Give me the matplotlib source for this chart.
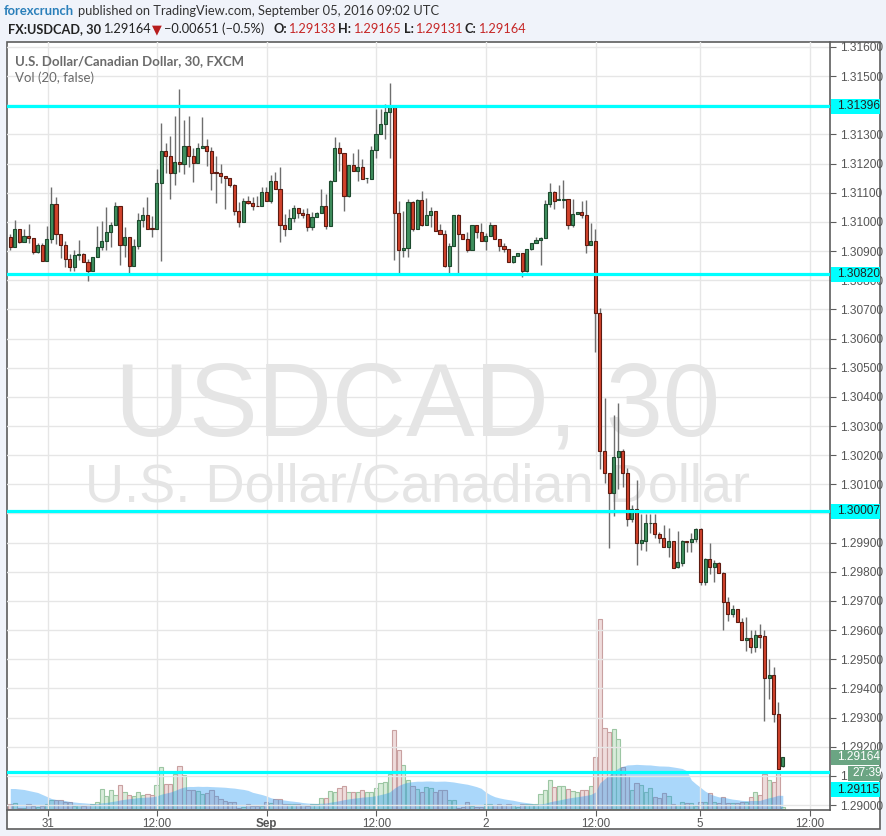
import numpy as np
import pandas as pd
import matplotlib
matplotlib.use('Agg')
import matplotlib.pyplot as plt
from matplotlib.patches import Rectangle
from matplotlib.ticker import FuncFormatter
from matplotlib.transforms import blended_transform_factory, offset_copy

plt.rcParams['font.family'] = ['Liberation Sans', 'DejaVu Sans']

# USDCAD 30 min candles, Aug 31 - Sep 5 2016
opens = [
    1.30948, 1.30914, 1.30974, 1.30932, 1.30953, 1.30946, 1.30897, 1.30920, 1.30866, 1.30940,
    1.31063, 1.30959, 1.30922, 1.30873, 1.30846, 1.30885, 1.30889, 1.30863, 1.30832, 1.30878,
    1.30913, 1.30936, 1.30967, 1.30988, 1.31054, 1.30921, 1.30948, 1.30849, 1.30917, 1.31006,
    1.31022, 1.30980, 1.30974, 1.31132, 1.31242, 1.31225, 1.31166, 1.31204, 1.31197, 1.31262,
    1.31225, 1.31203, 1.31252, 1.31262, 1.31242, 1.31171, 1.31166, 1.31159, 1.31149, 1.31125,
    1.31036, 1.30998, 1.31073, 1.31065, 1.31056, 1.31053, 1.31104, 1.31073, 1.31140, 1.31113,
    1.30991, 1.30976, 1.31013, 1.31047, 1.31029, 1.31027, 1.30983, 1.31016, 1.31029, 1.31054,
    1.30987, 1.31140, 1.31255, 1.31235, 1.31089, 1.31195, 1.31175, 1.31187, 1.31149, 1.31148,
    1.31245, 1.31300, 1.31335, 1.31376, 1.31395, 1.31032, 1.30905, 1.30912, 1.31067, 1.30976,
    1.31075, 1.30989, 1.31022, 1.31037, 1.30972, 1.30958, 1.30849, 1.30917, 1.31023, 1.30957,
    1.30940, 1.30902, 1.30989, 1.30964, 1.30935, 1.30951, 1.30989, 1.30943, 1.30918, 1.30908,
    1.30861, 1.30882, 1.30893, 1.30832, 1.30906, 1.30927, 1.30937, 1.30946, 1.31061, 1.31101,
    1.31075, 1.31075, 1.31078, 1.30991, 1.31027, 1.31033, 1.31025, 1.30922, 1.30934, 1.30689,
    1.30215, 1.30139, 1.30071, 1.30194, 1.30214, 1.30139, 1.29982, 1.30017, 1.29900, 1.29907,
    1.29966, 1.29966, 1.29929, 1.29915, 1.29886, 1.29906, 1.29818, 1.29831, 1.29906, 1.29903,
    1.29911, 1.29946, 1.29766, 1.29843, 1.29818, 1.29829, 1.29797, 1.29698, 1.29654, 1.29671,
    1.29629, 1.29566, 1.29572, 1.29543, 1.29583, 1.29580, 1.29437, 1.29446, 1.29311, 1.29133,
]
highs = [
    1.30958, 1.31006, 1.30974, 1.30974, 1.30994, 1.30946, 1.30929, 1.30928, 1.30985, 1.31119,
    1.31085, 1.30959, 1.30934, 1.30890, 1.30903, 1.30937, 1.30893, 1.30872, 1.30878, 1.30985,
    1.31002, 1.31051, 1.30998, 1.31068, 1.31054, 1.30982, 1.30948, 1.30942, 1.31030, 1.31051,
    1.31086, 1.31020, 1.31183, 1.31339, 1.31269, 1.31295, 1.31363, 1.31456, 1.31351, 1.31363,
    1.31253, 1.31269, 1.31360, 1.31283, 1.31258, 1.31226, 1.31198, 1.31159, 1.31151, 1.31130,
    1.31067, 1.31083, 1.31088, 1.31086, 1.31088, 1.31120, 1.31120, 1.31160, 1.31172, 1.31188,
    1.31026, 1.31044, 1.31057, 1.31047, 1.31043, 1.31046, 1.31035, 1.31035, 1.31112, 1.31095,
    1.31143, 1.31292, 1.31275, 1.31235, 1.31195, 1.31235, 1.31250, 1.31215, 1.31152, 1.31259,
    1.31387, 1.31387, 1.31405, 1.31475, 1.31396, 1.31071, 1.31037, 1.31080, 1.31072, 1.31077,
    1.31106, 1.31083, 1.31052, 1.31037, 1.30992, 1.30972, 1.30926, 1.31025, 1.31026, 1.30960,
    1.30964, 1.30989, 1.30989, 1.30997, 1.30961, 1.31000, 1.30989, 1.30943, 1.30929, 1.30908,
    1.30882, 1.30893, 1.30893, 1.30906, 1.30928, 1.30949, 1.30949, 1.31075, 1.31132, 1.31106,
    1.31126, 1.31143, 1.31080, 1.31077, 1.31033, 1.31072, 1.31075, 1.30997, 1.30974, 1.30703,
    1.30397, 1.30139, 1.30339, 1.30380, 1.30221, 1.30157, 1.30030, 1.30116, 1.29999, 1.29998,
    1.29998, 1.29999, 1.29937, 1.29961, 1.29949, 1.29906, 1.29940, 1.29909, 1.29906, 1.29934,
    1.29951, 1.29949, 1.29846, 1.29898, 1.29840, 1.29834, 1.29800, 1.29715, 1.29686, 1.29674,
    1.29640, 1.29644, 1.29600, 1.29600, 1.29620, 1.29600, 1.29500, 1.29474, 1.29354, 1.29165,
]
lows = [
    1.30903, 1.30914, 1.30928, 1.30932, 1.30928, 1.30890, 1.30892, 1.30866, 1.30866, 1.30928,
    1.30925, 1.30877, 1.30846, 1.30833, 1.30833, 1.30869, 1.30863, 1.30798, 1.30832, 1.30878,
    1.30905, 1.30905, 1.30914, 1.30988, 1.30853, 1.30880, 1.30825, 1.30849, 1.30908, 1.30983,
    1.30976, 1.30949, 1.30974, 1.30866, 1.31166, 1.31080, 1.31125, 1.31172, 1.31165, 1.31190,
    1.31138, 1.31203, 1.31252, 1.31191, 1.31111, 1.31065, 1.31134, 1.31045, 1.31120, 1.31022,
    1.30983, 1.30998, 1.31063, 1.31040, 1.31053, 1.31053, 1.31073, 1.31065, 1.31113, 1.30932,
    1.30952, 1.30976, 1.31000, 1.31014, 1.31012, 1.30969, 1.30972, 1.31016, 1.31029, 1.30974,
    1.30985, 1.31140, 1.31175, 1.31039, 1.31086, 1.31175, 1.31141, 1.31148, 1.31134, 1.31148,
    1.31218, 1.31300, 1.31285, 1.31220, 1.30869, 1.30825, 1.30880, 1.30878, 1.30969, 1.30974,
    1.30985, 1.30989, 1.30983, 1.30969, 1.30958, 1.30846, 1.30825, 1.30917, 1.30825, 1.30940,
    1.30897, 1.30902, 1.30946, 1.30935, 1.30903, 1.30951, 1.30943, 1.30901, 1.30897, 1.30861,
    1.30860, 1.30882, 1.30811, 1.30829, 1.30903, 1.30926, 1.30851, 1.30946, 1.31052, 1.31043,
    1.31075, 1.31049, 1.30974, 1.30983, 1.31027, 1.31012, 1.30894, 1.30922, 1.30554, 1.30154,
    1.30105, 1.29882, 1.29992, 1.30084, 1.30091, 1.29956, 1.29972, 1.29823, 1.29875, 1.29873,
    1.29934, 1.29915, 1.29898, 1.29886, 1.29852, 1.29812, 1.29812, 1.29820, 1.29869, 1.29869,
    1.29903, 1.29755, 1.29755, 1.29792, 1.29766, 1.29797, 1.29600, 1.29632, 1.29646, 1.29629,
    1.29566, 1.29529, 1.29520, 1.29526, 1.29537, 1.29289, 1.29362, 1.29286, 1.29122, 1.29131,
]
closes = [
    1.30914, 1.30974, 1.30932, 1.30953, 1.30946, 1.30897, 1.30920, 1.30866, 1.30940, 1.31063,
    1.30959, 1.30922, 1.30873, 1.30846, 1.30885, 1.30889, 1.30863, 1.30832, 1.30878, 1.30913,
    1.30936, 1.30967, 1.30988, 1.31054, 1.30921, 1.30948, 1.30849, 1.30917, 1.31006, 1.31022,
    1.30976, 1.30974, 1.31132, 1.31242, 1.31225, 1.31166, 1.31204, 1.31197, 1.31262, 1.31225,
    1.31203, 1.31252, 1.31262, 1.31242, 1.31168, 1.31166, 1.31159, 1.31149, 1.31125, 1.31036,
    1.30998, 1.31073, 1.31065, 1.31056, 1.31053, 1.31104, 1.31073, 1.31140, 1.31113, 1.30991,
    1.30976, 1.31013, 1.31047, 1.31029, 1.31024, 1.30983, 1.31016, 1.31029, 1.31054, 1.30987,
    1.31140, 1.31255, 1.31235, 1.31089, 1.31195, 1.31175, 1.31187, 1.31148, 1.31150, 1.31246,
    1.31300, 1.31335, 1.31376, 1.31395, 1.31031, 1.30905, 1.30912, 1.31067, 1.30976, 1.31075,
    1.30989, 1.31022, 1.31037, 1.30969, 1.30958, 1.30849, 1.30917, 1.31023, 1.30957, 1.30940,
    1.30902, 1.30989, 1.30964, 1.30935, 1.30951, 1.30989, 1.30943, 1.30918, 1.30908, 1.30861,
    1.30882, 1.30893, 1.30832, 1.30906, 1.30927, 1.30937, 1.30946, 1.31061, 1.31101, 1.31073,
    1.31075, 1.31078, 1.30991, 1.31027, 1.31033, 1.31025, 1.30922, 1.30934, 1.30689, 1.30215,
    1.30139, 1.30071, 1.30194, 1.30214, 1.30139, 1.29982, 1.30017, 1.29900, 1.29909, 1.29969,
    1.29966, 1.29929, 1.29917, 1.29886, 1.29906, 1.29812, 1.29834, 1.29906, 1.29903, 1.29911,
    1.29946, 1.29766, 1.29843, 1.29818, 1.29829, 1.29797, 1.29698, 1.29654, 1.29671, 1.29629,
    1.29566, 1.29572, 1.29543, 1.29583, 1.29577, 1.29437, 1.29446, 1.29311, 1.29125, 1.29164,
]
volumes = [
    5, 6, 1, 1, 5, 3, 2, 3, 5, 9, 9, 9, 7, 7, 3, 4, 3, 4, 5, 7,
    20, 13, 19, 14, 24, 17, 14, 13, 17, 14, 15, 14, 24, 42, 25, 25, 35, 43, 34, 19,
    19, 18, 15, 16, 19, 13, 10, 8, 7, 7, 1, 2, 5, 3, 3, 3, 7, 6, 10, 10,
    5, 5, 5, 5, 4, 3, 5, 5, 11, 11, 18, 17, 21, 23, 17, 17, 17, 19, 17, 17,
    21, 26, 27, 35, 79, 59, 44, 29, 23, 20, 17, 22, 21, 17, 19, 19, 9, 9, 1, 2,
    7, 3, 2, 2, 5, 5, 4, 5, 4, 5, 4, 2, 5, 5, 5, 5, 15, 19, 29, 22,
    23, 23, 20, 18, 17, 19, 19, 23, 52, 190, 81, 77, 80, 70, 42, 33, 19, 26, 24, 17,
    21, 12, 11, 16, 13, 5, 4, 7, 6, 6, 3, 7, 7, 16, 7, 6, 12, 6, 6, 6,
    7, 7, 12, 17, 14, 35, 29, 27, 36, 2,
]
# volume MA for the first bars (earlier history is off-screen)
vol_ma_head = [20, 20, 19.5, 19, 18, 17, 16, 14, 12, 10, 9, 8.5, 8, 7, 6.5, 6, 5.7, 5.3, 5]

time_tick_pos = [8.2, 32.1, 56.1, 80.1, 104.0, 128.1, 150.9, 175.0]
time_tick_labels = ['31', '12:00', 'Sep', '12:00', '2', '12:00', '5', '12:00']

levels = [1.31396, 1.30820, 1.30007, 1.29115]
hidden_ticks = [1.314, 1.300]  # fully covered by the level boxes
last_price = 1.29164
countdown = '27:39'

W, H = 887, 836


def fx(px):
    return px / W


def fy(py):
    return 1 - py / H


fig = plt.figure(figsize=(W / 100, H / 100), dpi=100, facecolor='#f0f3fa')
frame = Rectangle((fx(7), fy(829)), fx(880) - fx(7), fy(42) - fy(829),
                  transform=fig.transFigure, facecolor='white',
                  edgecolor='#5d5d5d', lw=1.2, zorder=-1)
fig.patches.append(frame)

rect = [fx(7), fy(810), fx(830) - fx(7), fy(42) - fy(810)]
ax_vol = fig.add_axes(rect)
ax = fig.add_axes(rect, sharex=ax_vol)

o, h, l, c = (np.array(a) for a in (opens, highs, lows, closes))
x = np.arange(len(o))
up = c >= o

# volume + moving average
vol = np.array(volumes, dtype=float)
vol_ma = pd.Series(vol).rolling(20).mean().to_numpy()
vol_ma[:len(vol_ma_head)] = vol_ma_head
ax_vol.bar(x[up], vol[up], width=0.92, color='#d8ecda', edgecolor='#9cc6a3', lw=0.8)
ax_vol.bar(x[~up], vol[~up], width=0.92, color='#efdcdc', edgecolor='#c9a1a1', lw=0.8)
ax_vol.fill_between(x, 0, vol_ma, color='#2196f3', alpha=0.38, lw=0, zorder=3)
ax_vol.set_ylim(-1.5, 766.5)
ax_vol.set_axis_off()

# watermark
ax.text(fx(418), fy(436), 'USDCAD, 30', transform=fig.transFigure, ha='center',
        va='baseline', fontsize=74, color='#e5e5e5', zorder=1)
ax.text(fx(418), fy(502), 'U.S. Dollar/Canadian Dollar', transform=fig.transFigure,
        ha='center', va='baseline', fontsize=39, color='#e5e5e5', zorder=1)

# candles
ax.vlines(x, l, h, color='#6e6e6e', lw=1.0, zorder=3)
body_bottom = np.minimum(o, c)
body_height = np.maximum(np.abs(c - o), 0.00002)
ax.bar(x[up], body_height[up], bottom=body_bottom[up], width=0.68,
       color='#3f8f5e', edgecolor='#1d4a2e', lw=0.8, zorder=4)
ax.bar(x[~up], body_height[~up], bottom=body_bottom[~up], width=0.68,
       color='#d2432c', edgecolor='#5c1b11', lw=0.8, zorder=4)

for lev in levels:
    ax.axhline(lev, color='#00ffff', lw=2.3, zorder=6)


def price_fmt(v, pos):
    if any(abs(v - t) < 1e-7 for t in hidden_ticks):
        return ''
    return f'{v:.5f}'


ax.set_xlim(-0.72, 179.33)
ax.set_ylim(1.28983, 1.31617)
ax.patch.set_visible(False)
ax.yaxis.tick_right()
ax.set_yticks(np.arange(1.290, 1.31601, 0.001))
ax.yaxis.set_major_formatter(FuncFormatter(price_fmt))
ax.tick_params(axis='y', colors='#5d5d5d', labelcolor='#555555', labelsize=8.6,
               length=4, width=0.8, pad=3)
ax.set_xticks(time_tick_pos, time_tick_labels)
ax.tick_params(axis='x', colors='#5d5d5d', labelcolor='#555555', labelsize=8.4,
               length=4, width=0.8, pad=2)
ax.get_xticklabels()[2].set_fontweight('bold')
ax.grid(True, color='#e6e6e6', lw=1)
ax.set_axisbelow(True)
for side in ('left', 'top'):
    ax.spines[side].set_visible(False)
for side in ('right', 'bottom'):
    ax.spines[side].set_color('#5d5d5d')
    ax.spines[side].set_linewidth(1.2)

# price labels on the right axis
lab_tr = blended_transform_factory(fig.transFigure, ax.transData)
box_h = 0.000515


def price_label(price, text, fc, tc, x0=831, shift=0):
    tr = offset_copy(lab_tr, fig=fig, y=-shift, units='dots')
    ax.add_patch(Rectangle((fx(x0), price - box_h / 2), fx(880) - fx(x0), box_h,
                           transform=tr, facecolor=fc, edgecolor='none',
                           clip_on=False, zorder=9))
    ax.text(fx(x0 + 6 if x0 < 840 else x0 + 4), price, text, transform=tr,
            ha='left', va='center', fontsize=8.6, color=tc, clip_on=False, zorder=10)


for lev in levels[:3]:
    price_label(lev, f'{lev:.5f}', '#00ffff', '#222222')
price_label(last_price, f'{last_price:.5f}', '#6ba583', 'white')
price_label(last_price, countdown, '#6ba583', 'white', x0=848, shift=16)
price_label(levels[3], f'{levels[3]:.5f}', '#00ffff', '#222222', shift=18)

# header
fig.text(fx(4), fy(11), 'forexcrunch', color='#2a7fba', fontsize=9.4,
         fontweight='bold', va='center', family='Lato')
fig.text(fx(78), fy(11), 'published on TradingView.com, September 05, 2016 09:02 UTC',
         color='#333333', fontsize=9.3, va='center', family='Lato')
red = '#c62828'
pieces = [
    (8, 'FX:USDCAD, 30', '#222222', 'bold'),
    (103, '1.29164', '#222222', 'normal'),
    (152, '\u25bc', '#b71c1c', 'normal'),
    (164, '\u22120.00651 (\u22120.5%)', '#222222', 'normal'),
    (273, 'O:', '#222222', 'bold'),
    (288, '1.29133', red, 'normal'),
    (338, 'H:', '#222222', 'bold'),
    (353, '1.29165', red, 'normal'),
    (404, 'L:', '#222222', 'bold'),
    (415, '1.29131', red, 'normal'),
    (465, 'C:', '#222222', 'bold'),
    (478, '1.29164', red, 'normal'),
]
for px_, txt, col, wt in pieces:
    fig.text(fx(px_), fy(29), txt, color=col, fontsize=9.2, fontweight=wt,
             va='center', family=['Lato', 'DejaVu Sans'])

fig.text(fx(15), fy(61), 'U.S. Dollar/Canadian Dollar, 30, FXCM', color='#6b6b6b',
         fontsize=9.5, fontweight='bold', va='center', family='Lato')
fig.text(fx(15), fy(78), 'Vol (20, false)', color='#6b6b6b', fontsize=9.5,
         va='center', family='Lato')

fig.savefig('out.png', dpi=100, facecolor=fig.get_facecolor())
